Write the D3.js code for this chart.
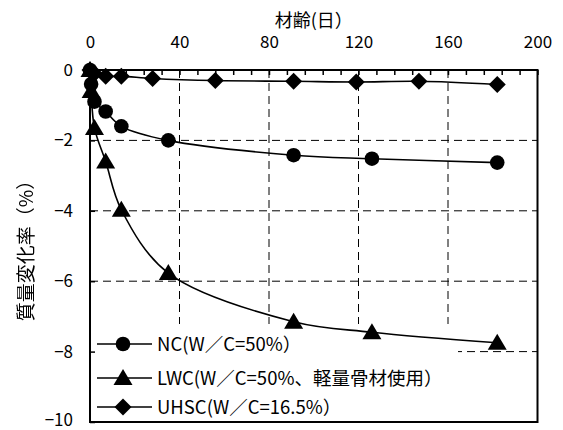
<!DOCTYPE html>
<html>
<head>
<meta charset="utf-8">
<script src="https://cdn.jsdelivr.net/npm/d3@7"></script>
<style>
  html, body { margin: 0; padding: 0; background: #fff; }
  svg { display: block; }
  text { font-family: "Noto Sans CJK JP", "Noto Sans", sans-serif; fill: #000; }
  .vtitle { -webkit-font-smoothing: antialiased; will-change: transform; }
</style>
</head>
<body>
<svg id="chart" width="563" height="430"></svg>
<script>
// Mass change (%) versus age (days) for three concrete mixes
const ncDays = [0, 0.5, 2, 7, 14, 35, 91, 126, 182];
const ncValues = [0, -0.4, -0.9, -1.18, -1.6, -2.0, -2.42, -2.52, -2.63];

const lwcDays = [0, 0.5, 2, 7, 14, 35, 91, 126, 182];
const lwcValues = [0, -0.6, -1.65, -2.6, -3.97, -5.77, -7.15, -7.45, -7.75];

const uhscDays = [0, 0.5, 2, 7, 14, 28, 56, 91, 119, 147, 182];
const uhscValues = [0, -0.05, -0.1, -0.18, -0.18, -0.24, -0.3, -0.32, -0.34, -0.32, -0.41];

const seriesNames = ["NC(W／C=50%）", "LWC(W／C=50%、軽量骨材使用）", "UHSC(W／C=16.5%）"];
const seriesMarkers = ["circle", "triangle", "diamond"];

const xTicks = [0, 40, 80, 120, 160, 200];
const yTicks = [0, -2, -4, -6, -8, -10];
const xTitle = "材齢(日）";
const yTitle = "質量変化率（%）";

const svg = d3.select("#chart");
const plotLeft = 90, plotRight = 537.5, plotTop = 70, plotBottom = 422;

const x = d3.scaleLinear().domain([0, 200]).range([plotLeft, plotRight]);
const y = d3.scaleLinear().domain([0, -10]).range([plotTop, plotBottom]);

const series = [
  { name: seriesNames[0], marker: seriesMarkers[0], pts: ncDays.map((d, i) => [d, ncValues[i]]) },
  { name: seriesNames[1], marker: seriesMarkers[1], pts: lwcDays.map((d, i) => [d, lwcValues[i]]) },
  { name: seriesNames[2], marker: seriesMarkers[2], pts: uhscDays.map((d, i) => [d, uhscValues[i]]) }
];

// dashed grid
const grid = svg.append("g").attr("stroke", "#000").attr("stroke-width", 1).attr("stroke-dasharray", "8,5");
grid.selectAll(".gx").data(xTicks.slice(1, -1)).join("line")
  .attr("x1", d => x(d)).attr("x2", d => x(d)).attr("y1", plotTop).attr("y2", plotBottom);
grid.selectAll(".gy").data(yTicks.slice(1, -1)).join("line")
  .attr("x1", plotLeft).attr("x2", plotRight).attr("y1", d => y(d)).attr("y2", d => y(d));

// legend background hides the grid behind it
svg.append("rect").attr("x", plotLeft + 1).attr("y", 324).attr("width", 457 - plotLeft).attr("height", plotBottom - 324 - 1)
  .attr("fill", "#fff");

// symbol shapes
const symbolPath = {
  circle: d3.symbol(d3.symbolCircle, Math.PI * 7.3 * 7.3)(),
  triangle: "M0,-9L9.5,7L-9.5,7Z",
  diamond: "M0,-8.5L8.5,0L0,8.5L-8.5,0Z"
};

// series lines and markers
const line = d3.line().x(d => x(d[0])).y(d => y(d[1])).curve(d3.curveCatmullRom.alpha(0.5));
series.forEach(s => {
  svg.append("path").datum(s.pts).attr("d", line)
    .attr("fill", "none").attr("stroke", "#000").attr("stroke-width", 1.6);
});
series.forEach(s => {
  svg.append("g").selectAll("path").data(s.pts).join("path")
    .attr("d", symbolPath[s.marker])
    .attr("transform", d => `translate(${x(d[0])},${y(d[1])})`)
    .attr("fill", "#000");
});

// frame
svg.append("rect").attr("x", plotLeft).attr("y", plotTop).attr("width", plotRight - plotLeft).attr("height", plotBottom - plotTop)
  .attr("fill", "none").attr("stroke", "#000").attr("stroke-width", 2);

// inner tick marks on the top axis (every 8 days)
svg.append("g").attr("transform", `translate(0,${plotTop})`)
  .call(d3.axisBottom(x).tickValues(d3.range(0, 201, 8)).tickFormat("").tickSizeInner(5).tickSizeOuter(0))
  .call(g => g.select(".domain").remove())
  .call(g => g.selectAll("line").attr("stroke", "#000").attr("stroke-width", 1.5));

// inner tick marks on the left axis
svg.append("g").attr("transform", `translate(${plotLeft},0)`)
  .call(d3.axisRight(y).tickValues(yTicks).tickFormat("").tickSizeInner(5).tickSizeOuter(0))
  .call(g => g.select(".domain").remove())
  .call(g => g.selectAll("line").attr("stroke", "#000").attr("stroke-width", 1.5));

// top axis labels
svg.append("g").attr("transform", `translate(0,${plotTop})`)
  .call(d3.axisTop(x).tickValues(xTicks).tickSize(0).tickPadding(22))
  .call(g => g.select(".domain").remove())
  .call(g => g.selectAll("text").attr("font-size", 17).attr("font-family", "Noto Sans CJK JP").attr("fill", "#000"));

// left axis labels (the lowest one sits a little higher to stay inside the page)
svg.append("g").attr("transform", `translate(${plotLeft},0)`)
  .call(d3.axisLeft(y).tickValues(yTicks).tickSize(0).tickPadding(17)
    .tickFormat(d => d < 0 ? "−" + Math.abs(d) : String(d)))
  .call(g => g.select(".domain").remove())
  .call(g => g.selectAll("text").attr("font-size", 17).attr("font-family", "Noto Sans CJK JP").attr("fill", "#000")
    .attr("dy", d => d === -10 ? "0.2em" : "0.32em"));

// axis titles
svg.append("text").attr("x", (plotLeft + plotRight) / 2).attr("y", 27).attr("text-anchor", "middle")
  .attr("font-size", 18).text(xTitle);
svg.append("text").attr("class", "vtitle").attr("transform", `translate(33,${(plotTop + plotBottom) / 2}) rotate(-90)`)
  .attr("text-anchor", "middle").attr("font-size", 19).attr("fill", "#000").text(yTitle);

// legend entries
const legendRows = [344, 378, 407];
const lg = svg.append("g");
series.forEach((s, i) => {
  const ly = legendRows[i];
  lg.append("line").attr("x1", 97).attr("x2", 152).attr("y1", ly).attr("y2", ly)
    .attr("stroke", "#000").attr("stroke-width", 1.6);
  lg.append("path").attr("d", symbolPath[s.marker]).attr("transform", `translate(123,${ly})`).attr("fill", "#000");
  lg.append("text").attr("x", 157).attr("y", ly).attr("dy", "0.36em").attr("font-size", 18.5).text(s.name);
});
</script>
</body>
</html>
